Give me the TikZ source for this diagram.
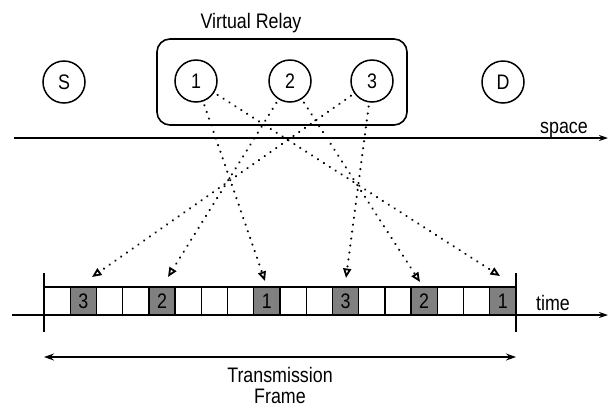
\documentclass[tikz,border=0pt]{standalone}
\usepackage{fontspec}
\setmainfont{Liberation Sans}
\newfontfamily\tallfont[FakeStretch=0.85]{Liberation Sans}
\usetikzlibrary{arrows.meta}
\definecolor{slotgray}{HTML}{808080}
\begin{document}
\begin{tikzpicture}[x=1pt,y=-1pt,
  every node/.style={font=\tallfont\fontsize{21}{21}\selectfont},
  station/.style={draw, circle, minimum size=42pt, inner sep=0pt, line width=1.5pt},
  slot/.style={draw, rectangle, minimum width=26.22pt, minimum height=28pt, inner sep=0pt, line width=1.4pt},
  busy/.style={slot, fill=slotgray},
  relayarrow/.style={line width=2.4pt, dash pattern=on 0.01pt off 7pt, line cap=round,
    -{Triangle[open, length=9.5pt, width=8pt, line width=1.8pt]}, shorten <=4pt},
  axis/.style={line width=1.5pt, -{Stealth[length=9pt, width=6pt]}},
  tick/.style={line width=1.5pt},
  label/.style={anchor=base, inner sep=0pt}]
\fill[white] (0,0) rectangle (608,408);
\useasboundingbox (0,0) rectangle (608,408);

% space axis
\coordinate (sx0) at (14,138);
\coordinate (sx1) at (608,138);
\draw[axis] (sx0) -- (sx1);
\node[label] (spacelbl) at (564,133) {space};

% virtual relay group
\node[draw, rounded corners=13pt, line width=1.6pt, minimum width=250pt, minimum height=86pt] (relay) at (282,82) {};
\node[label] (vrlbl) at (251,28) {Virtual Relay};

\node[station] (s) at (64,82) {S};
\node[station] (r1) at (196,81) {1};
\node[station] (r2) at (290,81) {2};
\node[station] (r3) at (372,81) {3};
\node[station] (d) at (503,82) {D};

% time axis
\coordinate (tx0) at (12,315);
\coordinate (tx1) at (608,315);
\draw[axis] (tx0) -- (tx1);
\node[label] (timelbl) at (553,310) {time};

% slots
\foreach \i in {0,...,17} {
  \node[slot] (b\i) at ({44+26.22*(\i+0.5)},301) {};
}
\node[busy] at (b1) {3};
\node[busy] at (b4) {2};
\node[busy] at (b8) {1};
\node[busy] at (b11) {3};
\node[busy] at (b14) {2};
\node[busy] at (b17) {1};

% frame ticks
\coordinate (ta0) at (44,273);
\coordinate (ta1) at (44,332);
\coordinate (tb0) at (516,273);
\coordinate (tb1) at (516,332);
\draw[tick] (ta0) -- (ta1);
\draw[tick] (tb0) -- (tb1);

% arrow targets
\coordinate (t1) at (92,277);
\coordinate (t4) at (168,277);
\coordinate (t8) at (265,281);
\coordinate (t11) at (346,278);
\coordinate (t14) at (420,282);
\coordinate (t17) at (500,276);

\draw[relayarrow] (r3) -- (t1);
\draw[relayarrow] (r2) -- (t4);
\draw[relayarrow] (r1) -- (t8);
\draw[relayarrow] (r3) -- (t11);
\draw[relayarrow] (r2) -- (t14);
\draw[relayarrow] (r1) -- (t17);

% transmission frame
\coordinate (fa) at (44,357);
\coordinate (fb) at (516,357);
\draw[line width=1.5pt, {Stealth[length=10pt, width=7pt]}-{Stealth[length=10pt, width=7pt]}] (fa) -- (fb);
\node[label, align=center] (framelbl) at (280,403) {Transmission\\Frame};
\end{tikzpicture}
\end{document}
